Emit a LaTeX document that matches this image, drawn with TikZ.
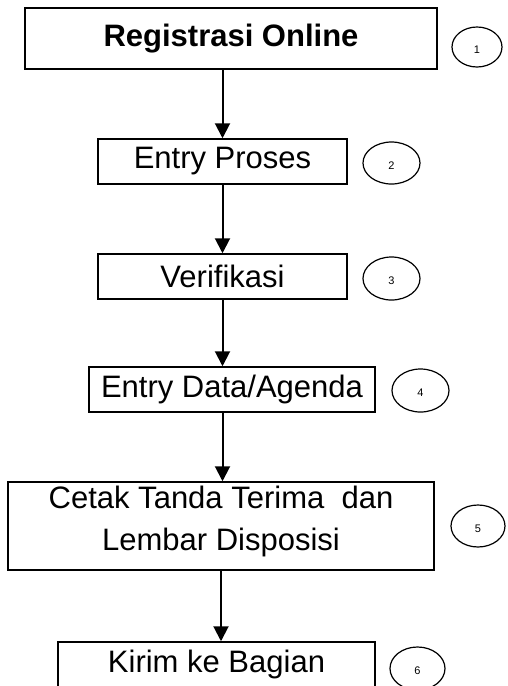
\documentclass[tikz,border=0pt]{standalone}
\usepackage{fontspec}
\setmainfont{Liberation Sans}
\usetikzlibrary{arrows.meta,shapes.geometric}

\begin{document}
\begin{tikzpicture}[x=1pt, y=-1pt,
  stepbox/.style={draw, line width=1.5pt, inner sep=0pt, font=\fontsize{31}{42}\selectfont, align=center},
  num/.style={draw, ellipse, line width=1.2pt, inner sep=0pt, text height=12pt, text depth=0pt, font=\fontsize{11}{13}\selectfont},
  flow/.style={line width=2pt, -{Triangle[width=15pt,length=15pt]}}]
\useasboundingbox (0,0) rectangle (507,686);

\node[stepbox, minimum width=412, minimum height=61, font=\fontsize{31}{36}\selectfont\bfseries] (S1) at (231,38.5) {Registrasi Online};
\node[stepbox, minimum width=249, minimum height=45] (S2) at (222.5,161.5) {Entry Proses};
\node[stepbox, minimum width=249, minimum height=45] (S3) at (222.5,276.5) {Verifikasi};
\node[stepbox, minimum width=286, minimum height=45] (S4) at (232,389.5) {Entry Data/Agenda};
\node[stepbox, minimum width=426, minimum height=88, text depth=16pt] (S5) at (221,526) {Cetak Tanda Terima\ \ dan\\Lembar Disposisi};
\node[stepbox, minimum width=317, minimum height=45] (S6) at (216.5,664.5) {Kirim ke Bagian};

\node[num, minimum width=50, minimum height=40] (N1) at (477,47) {1};
\node[num, minimum width=57, minimum height=42] (N2) at (391.5,163) {2};
\node[num, minimum width=57, minimum height=43] (N3) at (391.5,278.5) {3};
\node[num, minimum width=57, minimum height=43] (N4) at (420.5,390.5) {4};
\node[num, minimum width=54, minimum height=42] (N5) at (478,526) {5};
\node[num, minimum width=55, minimum height=43] (N6) at (417.5,668.5) {6};

\draw[flow] (S1.south -| S2.north) -- (S2.north);
\draw[flow] (S2.south) -- (S3.north);
\draw[flow] (S3.south) -- (S3.south |- S4.north);
\draw[flow] (S3.south |- S4.south) -- (S3.south |- S5.north);
\draw[flow] (S5.south) -- (S5.south |- S6.north);
\end{tikzpicture}
\end{document}
